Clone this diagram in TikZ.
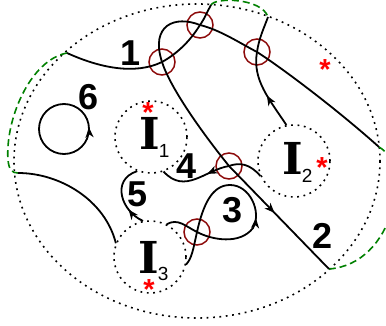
\documentclass[tikz,border=0pt]{standalone}
\usepackage{fontspec}
\setmainfont{Liberation Sans}
\newfontfamily\letraI{DejaVu Serif}
\newcommand\indicefont{\normalfont\fontsize{19}{19}\selectfont}
\newcommand\estrella{\raisebox{-0.43em}[0.29em][0pt]{*}}
\usetikzlibrary{arrows.meta,decorations.markings}

\definecolor{rojocruce}{RGB}{140,10,10}
\definecolor{verdeborde}{RGB}{0,128,0}

\tikzset{
	punteado/.style={line width=1.6pt,dash pattern=on 1.8pt off 4.6pt},
	agujero/.style={draw,circle,punteado,minimum size=72pt,inner sep=0pt},
	cruce/.style={draw=rojocruce,circle,line width=1.5pt,minimum size=26pt,inner sep=0pt},
	curva/.style={line width=1.8pt},
	borde/.style={draw=verdeborde,line width=1.6pt,dash pattern=on 7pt off 4pt},
	numero/.style={font=\fontsize{36}{36}\selectfont\bfseries,inner sep=0pt},
	letra/.style={font=\letraI\bfseries\fontsize{44}{44}\selectfont,inner sep=0pt,anchor=base west},
	asterisco/.style={text=red,font=\fontsize{29}{29}\selectfont\bfseries,inner sep=0pt},
	flecha/.style={postaction={decorate},decoration={markings,mark=at position #1 with {\arrow{Stealth[length=10pt,width=8pt,inset=3pt]}}}},
	flechainv/.style={postaction={decorate},decoration={markings,mark=at position #1 with {\arrowreversed{Stealth[length=10pt,width=8pt,inset=3pt]}}}}
}

\begin{document}
\begin{tikzpicture}[x=1pt,y=-1pt]
		\useasboundingbox (0,0) rectangle (386,326);
		\clip (0,0) rectangle (386,326);

		%Disco
		\draw[punteado] (197,161) ellipse [x radius=183,y radius=157];

		%Agujeros
		\node[agujero] (I1) at (151,137) {};
		\node[agujero] (I2) at (294,161) {};
		\node[agujero] (I3) at (150,257) {};
		\node[letra] (letra1) at (139,150) {I\kern-1pt\raisebox{-8pt}[\height][0pt]{\indicefont 1}};
		\node[letra] (letra2) at (282,175) {I\kern-1pt\raisebox{-8pt}[\height][0pt]{\indicefont 2}};
		\node[letra] (letra3) at (138,273) {I\kern-1pt\raisebox{-7pt}[\height][0pt]{\indicefont 3}};
		\node[asterisco] (ast1) at (148,106) {\estrella};
		\node[asterisco] (ast2) at (322,161) {\estrella};
		\node[asterisco] (ast3) at (149,283) {\estrella};
		\node[asterisco] (ast4) at (325,63) {\estrella};

		%Cruces
		\node[cruce] (cruce1) at (162,62) {};
		\node[cruce] (cruce2) at (200,25) {};
		\node[cruce] (cruce3) at (257,52) {};
		\node[cruce] (cruce4) at (229,166) {};
		\node[cruce] (cruce5) at (197,232) {};

		%Extremos
		\coordinate (borde1) at (67,53);
		\coordinate (borde2) at (18,173);
		\coordinate (borde3) at (211,5);
		\coordinate (borde4) at (268,17);
		\coordinate (borde5) at (379,147);
		\coordinate (borde6) at (329,269);

		%Bordes
		\draw[borde] (borde1) .. controls (30,60) and (5,120) .. (8,160) .. controls (9,170) and (12,173) .. (borde2);
		\draw[borde] (borde3) .. controls (215,-3) and (262,-2) .. (borde4);
		\draw[borde] (borde5) .. controls (412,165) and (395,264) .. (borde6);

		%Arcos
		\draw[curva] (borde1) .. controls (100,68) and (135,75) .. (cruce1.center) .. controls (180,52) and (192,38) .. (cruce2.center) .. controls (205,18) and (208,10) .. (borde3);
		\draw[curva,flecha=0.86] (borde5) .. controls (340,112) and (285,70) .. (cruce3.center) .. controls (238,42) and (220,30) .. (cruce2.center) .. controls (175,15) and (150,25) .. (cruce1.center) .. controls (170,87) and (200,130) .. (cruce4.center) -- (borde6);
		\draw[curva,flecha=0.3] (I2.102) .. controls (270,100) and (252,80) .. (cruce3.center) .. controls (259,38) and (264,28) .. (borde4);
		\draw[curva,flecha=0.55] (I2.204) .. controls (250,164) and (240,162) .. (cruce4.center) .. controls (205,170) and (185,195) .. (I1.290);
		\draw[curva,flecha=0.28] (I3.101) .. controls (122,212) and (110,180) .. (I1.248);
		\draw[curva,flecha=0.42] (I3.63) .. controls (178,218) and (185,226) .. (cruce5.center) .. controls (212,240) and (240,245) .. (253,228) .. controls (262,212) and (250,185) .. (230,185) .. controls (212,185) and (203,205) .. (cruce5.center) .. controls (193,250) and (192,258) .. (I3.348);
		\draw[curva] (borde2) .. controls (60,173) and (105,200) .. (I3.158);
		\draw[curva,flechainv=0.99] (64,129) circle [radius=25];

		%Numeros
		\node[numero] (num1) at (131,53) {1};
		\node[numero] (num2) at (323,236) {2};
		\node[numero] (num3) at (233,210) {3};
		\node[numero] (num4) at (187,166) {4};
		\node[numero] (num5) at (138,194) {5};
		\node[numero] (num6) at (89,97) {6};
\end{tikzpicture}
\end{document}
